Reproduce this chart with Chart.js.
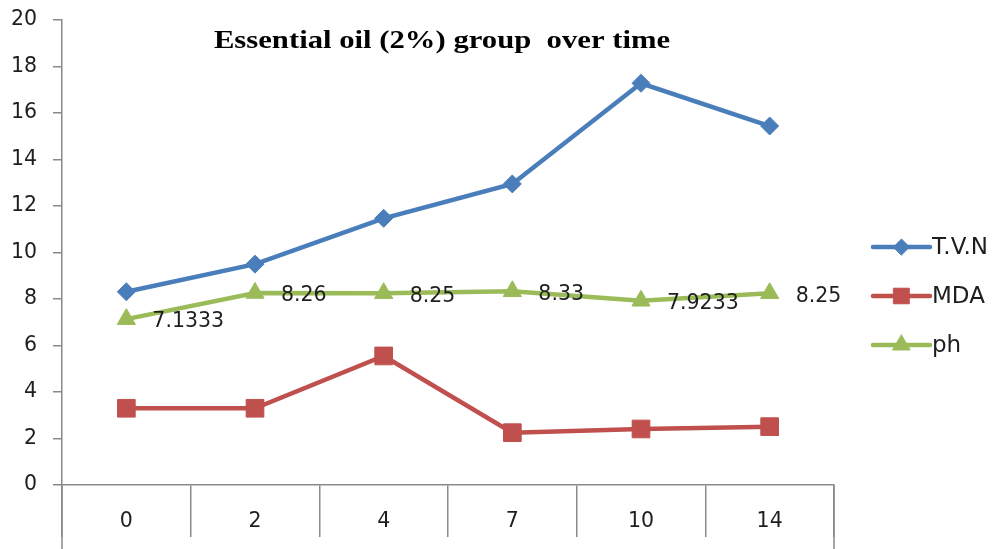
<!DOCTYPE html>
<html>
<head>
<meta charset="utf-8">
<script src="https://cdn.jsdelivr.net/npm/chart.js@4/dist/chart.umd.min.js"></script>
<style>
  html, body { margin: 0; padding: 0; background: #ffffff; }
  #wrap { width: 995px; height: 549px; }
</style>
</head>
<body>
<div id="wrap"><canvas id="c" width="995" height="549"></canvas></div>
<script>
// Sampling days and measured values for the 2% essential-oil group
const days = ['0', '2', '4', '7', '10', '14'];
const tvn = [8.31, 9.5, 11.47, 12.95, 17.28, 15.44];
const mda = [3.3, 3.3, 5.55, 2.25, 2.41, 2.51];
const ph = [7.1333, 8.26, 8.25, 8.33, 7.9233, 8.25];
const phLabels = ['7.1333', '8.26', '8.25', '8.33', '7.9233', '8.25'];

const yMin = 0, yMax = 20, yStep = 2;
const chartTitle = 'Essential oil (2%) group  over time';

const AXIS = '#8a8a8a';
const TEXT = '#1e1e1e';
const SANS = '"DejaVu Sans", sans-serif';

// Title drawn over the top of the plot area (slightly widened serif face)
const titlePlugin = {
  id: 'overlayTitle',
  afterDraw(chart) {
    const { ctx, chartArea } = chart;
    ctx.save();
    ctx.translate((chartArea.left + chartArea.right) / 2 - 6, chartArea.top + 28);
    ctx.scale(1.18, 1);
    ctx.font = 'bold 26px "Liberation Serif", serif';
    ctx.fillStyle = '#000000';
    ctx.textAlign = 'center';
    ctx.textBaseline = 'alphabetic';
    ctx.fillText(chartTitle, 0, 0);
    ctx.restore();
  }
};

// Value labels beside the pH points
const phLabelPlugin = {
  id: 'phValueLabels',
  afterDatasetsDraw(chart) {
    const { ctx } = chart;
    const meta = chart.getDatasetMeta(2);
    ctx.save();
    ctx.font = '20.5px ' + SANS;
    ctx.fillStyle = TEXT;
    ctx.textAlign = 'left';
    ctx.textBaseline = 'middle';
    meta.data.forEach((pt, i) => {
      ctx.fillText(phLabels[i], pt.x + 26, pt.y + 3);
    });
    ctx.restore();
  }
};

// Axis lines continue below the category row, table style
const axisExtendPlugin = {
  id: 'axisExtend',
  afterDraw(chart) {
    const { ctx, chartArea } = chart;
    const h = chart.height;
    ctx.save();
    ctx.strokeStyle = AXIS;
    ctx.lineWidth = 1.5;
    ctx.beginPath();
    ctx.moveTo(chartArea.left, chartArea.bottom);
    ctx.lineTo(chartArea.left, h);
    ctx.moveTo(chartArea.right, chartArea.bottom);
    ctx.lineTo(chartArea.right, h);
    ctx.stroke();
    ctx.restore();
  }
};

// Legend at the right: line segment with marker, then the series name
const sideLegendPlugin = {
  id: 'sideLegend',
  afterDraw(chart) {
    const { ctx } = chart;
    const x0 = 873, x1 = 930, rows = [247, 296, 345];
    const radii = [8, 11, 10];
    ctx.save();
    chart.data.datasets.forEach((ds, i) => {
      const y = rows[i];
      ctx.strokeStyle = ds.borderColor;
      ctx.lineWidth = 4.5;
      ctx.lineCap = 'round';
      ctx.beginPath();
      ctx.moveTo(x0, y);
      ctx.lineTo(x1, y);
      ctx.stroke();
      ctx.fillStyle = ds.backgroundColor;
      ctx.strokeStyle = ds.borderColor;
      ctx.lineWidth = 1;
      Chart.helpers.drawPoint(ctx, { pointStyle: ds.pointStyle, radius: radii[i], borderWidth: 1 }, (x0 + x1) / 2, y);
      ctx.fillStyle = TEXT;
      ctx.font = '23px ' + SANS;
      ctx.textAlign = 'left';
      ctx.textBaseline = 'middle';
      ctx.fillText(ds.label, x1 + 2, y + 1);
    });
    ctx.restore();
  }
};

new Chart(document.getElementById('c'), {
  type: 'line',
  data: {
    labels: days,
    datasets: [
      {
        label: 'T.V.N', data: tvn,
        borderColor: '#4a7ebb', backgroundColor: '#4a7ebb',
        borderWidth: 4.5, pointStyle: 'rectRot', pointRadius: 9,
        pointBorderWidth: 1, tension: 0
      },
      {
        label: 'MDA', data: mda,
        borderColor: '#c0504d', backgroundColor: '#c0504d',
        borderWidth: 4.5, pointStyle: 'rect', pointRadius: 12.5,
        pointBorderWidth: 1, tension: 0
      },
      {
        label: 'ph', data: ph,
        borderColor: '#9bbb59', backgroundColor: '#9bbb59',
        borderWidth: 4.5, pointStyle: 'triangle', pointRadius: 10.5,
        pointBorderWidth: 1, tension: 0
      }
    ]
  },
  options: {
    responsive: false,
    animation: false,
    devicePixelRatio: 1,
    layout: { padding: { left: 0, top: 20, right: 161, bottom: 0 } },
    plugins: {
      legend: { display: false },
      title: { display: false },
      tooltip: { enabled: false }
    },
    scales: {
      x: {
        type: 'category',
        offset: true,
        afterFit(scale) {
          scale.height = 64;
          scale.paddingLeft = 0;
          scale.paddingRight = 0;
        },
        grid: {
          offset: true, drawOnChartArea: false, drawTicks: true,
          tickLength: 52, color: AXIS, lineWidth: 1.5
        },
        border: { display: true, color: AXIS, width: 1.5 },
        ticks: {
          padding: -28,
          color: TEXT,
          font: { family: SANS, size: 20.5, lineHeight: 1.2 },
          maxRotation: 0
        }
      },
      y: {
        min: yMin, max: yMax,
        afterFit(scale) {
          scale.width = 62;
          scale.paddingTop = 0;
          scale.paddingBottom = 0;
        },
        grid: {
          drawOnChartArea: false, drawTicks: true,
          tickLength: 9, color: AXIS, lineWidth: 1.5
        },
        border: { display: true, color: AXIS, width: 1.5 },
        ticks: {
          stepSize: yStep,
          padding: 16,
          color: TEXT,
          font: { family: SANS, size: 20.5 }
        }
      }
    }
  },
  plugins: [titlePlugin, phLabelPlugin, axisExtendPlugin, sideLegendPlugin]
});
</script>
</body>
</html>
